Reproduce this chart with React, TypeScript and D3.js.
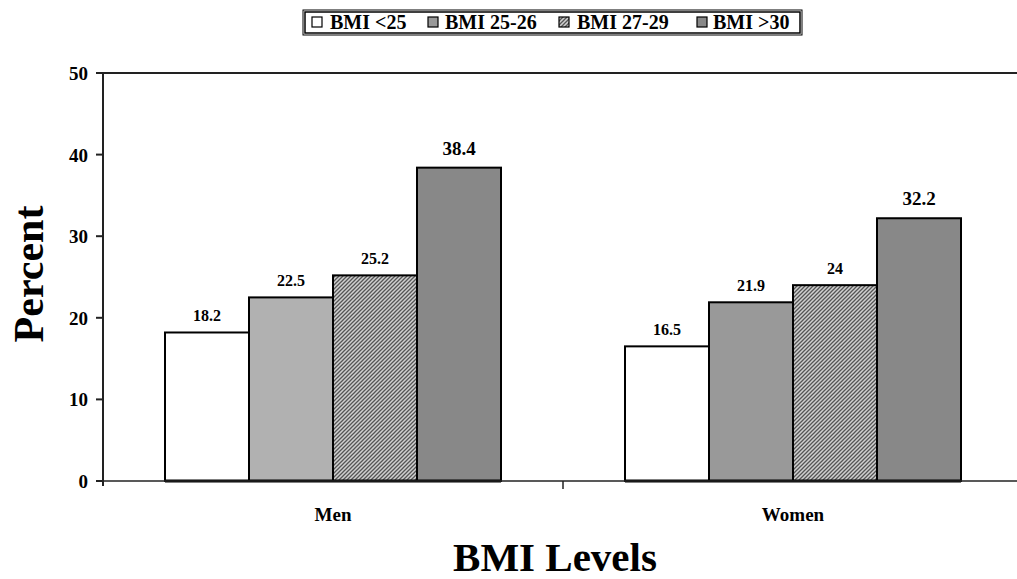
import React from "react";
import * as d3 from "d3";

const categories = ["Men", "Women"];
const series = ["BMI <25", "BMI 25-26", "BMI 27-29", "BMI >30"];
const menValues = [18.2, 22.5, 25.2, 38.4];
const womenValues = [16.5, 21.9, 24, 32.2];
const menLabels = ["18.2", "22.5", "25.2", "38.4"];
const womenLabels = ["16.5", "21.9", "24", "32.2"];
const yTicks = [0, 10, 20, 30, 40, 50];

const W = 1017;
const H = 579;
const FONT = "'Liberation Serif', 'Times New Roman', serif";

// fills per category/series
const menFills = ["#ffffff", "#b1b1b1", "url(#hatch)", "#888888"];
const womenFills = ["#ffffff", "#999999", "url(#hatch)", "#888888"];
const legendFills = ["#ffffff", "#999999", "url(#hatch)", "#888888"];

export default function App() {
  const left = 103;
  const top = 73;
  const bottom = 481;
  const x0 = d3.scaleBand<string>().domain(categories).range([left, 1023]).padding(0);
  const x1 = d3
    .scaleBand<string>()
    .domain(series)
    .range([62, 62 + 336])
    .padding(0);
  const y = d3.scaleLinear().domain([0, 50]).range([bottom, top]);

  const data = [
    { cat: "Men", values: menValues, labels: menLabels, fills: menFills },
    { cat: "Women", values: womenValues, labels: womenLabels, fills: womenFills },
  ];

  const legendItems = [
    { sx: 312, tx: 330 },
    { sx: 428, tx: 445 },
    { sx: 559, tx: 577 },
    { sx: 697, tx: 713 },
  ];

  return (
    <svg
      width={W}
      height={H}
      style={{ position: "absolute", left: 0, top: 0, background: "#fff" }}
      fontFamily={FONT}
    >
      <defs>
        <pattern id="hatch" patternUnits="userSpaceOnUse" width="4" height="4">
          <rect width="4" height="4" fill="#d0d0d0" />
          <path d="M-1,1 l2,-2 M0,4 l4,-4 M3,5 l2,-2" stroke="#555" strokeWidth="1.3" />
        </pattern>
      </defs>
      <rect width={W} height={H} fill="#fff" />

      {/* legend */}
      <rect x={303} y={10} width={499} height={25} fill="#fff" stroke="#000" strokeWidth={1} />
      <rect x={305} y={12} width={495} height={21} fill="none" stroke="#000" strokeWidth={1.5} />
      {series.map((s, i) => (
        <g key={s}>
          <rect
            x={legendItems[i].sx}
            y={17}
            width={10}
            height={10}
            fill={legendFills[i]}
            stroke="#000"
            strokeWidth={1.2}
          />
          <text x={legendItems[i].tx} y={29} fontSize={20} fontWeight="bold" fill="#000">
            {s}
          </text>
        </g>
      ))}

      {/* top border */}
      <line x1={left} x2={W} y1={top} y2={top} stroke="#222" strokeWidth={2} />

      {/* bars */}
      {data.map((d) => (
        <g key={d.cat} transform={`translate(${x0(d.cat)},0)`}>
          {d.values.map((v, i) => (
            <rect
              key={i}
              x={x1(series[i])}
              y={y(v)}
              width={x1.bandwidth()}
              height={bottom - y(v)}
              fill={d.fills[i]}
              stroke="#000"
              strokeWidth={2}
            />
          ))}
          <line
            x1={x1(series[0])}
            x2={(x1(series[3]) as number) + x1.bandwidth()}
            y1={bottom}
            y2={bottom}
            stroke="#000"
            strokeWidth={3}
          />
          {d.values.map((v, i) => (
            <text
              key={"l" + i}
              x={(x1(series[i]) as number) + x1.bandwidth() / 2}
              y={y(v) - (i === 3 ? 13 : 11)}
              textAnchor="middle"
              fontSize={i === 3 ? 19 : 16}
              fontWeight="bold"
              fill="#000"
            >
              {d.labels[i]}
            </text>
          ))}
        </g>
      ))}

      {/* x axis */}
      <line x1={left} x2={W} y1={bottom} y2={bottom} stroke="#222" strokeWidth={1.5} />
      <line x1={x0("Women")} x2={x0("Women")} y1={bottom} y2={bottom + 8} stroke="#222" strokeWidth={1.5} />
      {categories.map((c) => (
        <text
          key={c}
          x={(x0(c) as number) + x0.bandwidth() / 2}
          y={521}
          textAnchor="middle"
          fontSize={19}
          fontWeight="bold"
          fill="#000"
        >
          {c}
        </text>
      ))}

      {/* y axis */}
      <line x1={left} x2={left} y1={top} y2={bottom + 5} stroke="#222" strokeWidth={2} />
      {yTicks.map((t) => (
        <g key={t}>
          <line x1={left - 7} x2={left} y1={y(t)} y2={y(t)} stroke="#222" strokeWidth={2} />
          <text
            x={88}
            y={y(t) + 7}
            textAnchor="end"
            fontSize={19}
            fontWeight="bold"
            fill="#000"
          >
            {t}
          </text>
        </g>
      ))}

      {/* axis titles */}
      <text
        transform="translate(43,274) rotate(-90)"
        textAnchor="middle"
        fontSize={42}
        fontWeight="bold"
        fill="#000"
      >
        Percent
      </text>
      <text x={555} y={571} textAnchor="middle" fontSize={41} fontWeight="bold" fill="#000">
        BMI Levels
      </text>
    </svg>
  );
}
